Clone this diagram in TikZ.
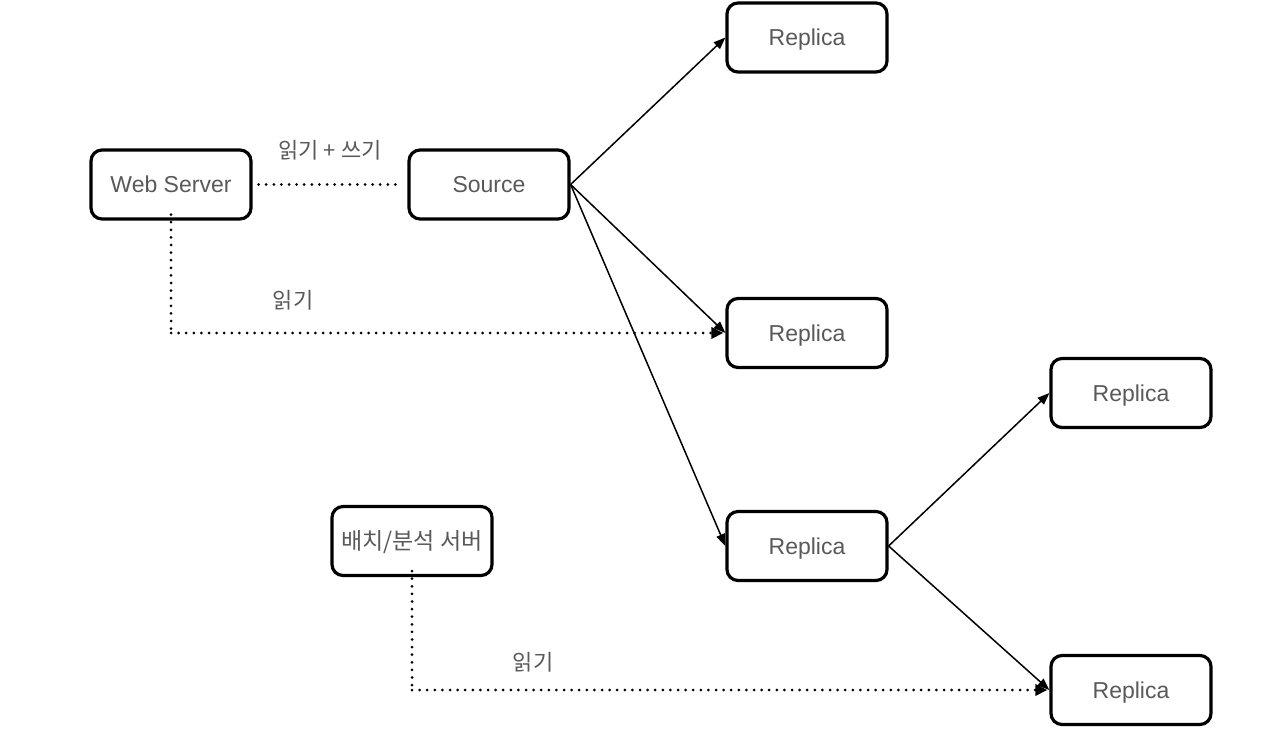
\documentclass[tikz,border=0pt]{standalone}
\usepackage{fontspec}
\setmainfont{Liberation Sans}
\newfontfamily\kr{Noto Sans CJK KR}
\usetikzlibrary{arrows.meta}
\begin{document}
\begin{tikzpicture}[x=1pt,y=-1pt,
  box/.style={draw=black, line width=3.2pt, rounded corners=11pt, minimum width=160pt, minimum height=69pt, fill=white, text=black!65, font=\fontsize{23}{27}\selectfont, inner sep=0pt, text height=17pt, text depth=0pt},
  link/.style={line width=1.5pt, -{Triangle[length=12pt,width=9pt]}},
  dots/.style={line width=3pt, line cap=round, dash pattern=on 0pt off 7.6pt},
  lbl/.style={text=black!65, font=\kr\fontsize{22}{26}\selectfont}]
\useasboundingbox (0,0) rectangle (1280,746);
\fill[white] (0,0) rectangle (1280,746);
\node[box] (web) at (171,184.5) {Web Server};
\node[box] (src) at (489,184.5) {Source};
\node[box] (r1) at (807,37.5) {Replica};
\node[box] (r2) at (807,333) {Replica};
\node[box] (r3) at (807,546) {Replica};
\node[box] (r4) at (1131,393) {Replica};
\node[box] (r5) at (1131,690) {Replica};
\node[box] (bat) at (412,541) {\kr 배치/분석 서버};

\draw[link] (src.east) -- (r1.west);
\draw[link] (src.east) -- (r2.west);
\draw[link] (src.east) -- (r3.west);
\draw[link] (r3.east) -- (r4.west);
\draw[link] (r3.east) -- (r5.west);

\draw[dots] ([xshift=6pt]web.east) -- ([xshift=-6pt]src.west);
\node[lbl] (l1) at (330,150) {읽기 + 쓰기};
\coordinate (c1) at (web.south |- r2.west);
\draw[dots] ([yshift=6pt]web.south) -- (c1);
\draw[dots,-{Triangle[length=12pt,width=11pt]}] (c1) -- ([xshift=-2pt]r2.west);
\node[lbl] (l2) at (293,300) {읽기};
\coordinate (c2) at (bat.south |- r5.west);
\draw[dots] ([yshift=6pt]bat.south) -- (c2);
\draw[dots,-{Triangle[length=12pt,width=11pt]}] (c2) -- ([xshift=-2pt]r5.west);
\node[lbl] (l3) at (533,662) {읽기};
\end{tikzpicture}
\end{document}
